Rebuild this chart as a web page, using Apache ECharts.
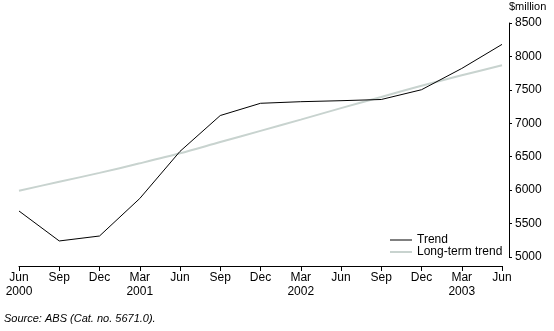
<!DOCTYPE html>
<html><head><meta charset="utf-8">
<script src="https://cdn.jsdelivr.net/npm/echarts@6/dist/echarts.min.js"></script>
<style>html,body{margin:0;padding:0;background:#fff}#c{width:554px;height:331px}</style>
</head><body><div id="c"></div>
<script>
const categories = ["Jun\n2000","Sep","Dec","Mar\n2001","Jun","Sep","Dec","Mar\n2002","Jun","Sep","Dec","Mar\n2003","Jun"];
const trend = [5688, 5240, 5314, 5875, 6580, 7116, 7299, 7323, 7338, 7356, 7502, 7820, 8180];
const longTerm = [5992, 6125, 6258, 6401, 6551, 6720, 6886, 7055, 7227, 7393, 7562, 7718, 7867];
const yTicks = {min: 5000, max: 8500, interval: 500};
const font = "'Liberation Sans', Arial, sans-serif";
const chart = echarts.init(document.getElementById('c'), null, {renderer: 'canvas'});
chart.setOption({
  animation: false,
  backgroundColor: '#fff',
  grid: {left: 19, right: 52, top: 23, bottom: 74},
  xAxis: {
    type: 'category', data: categories, boundaryGap: false, offset: 9,
    axisLine: {lineStyle: {color: '#000', width: 1}},
    axisTick: {alignWithLabel: true, length: 5, lineStyle: {color: '#000'}},
    axisLabel: {color: '#000', fontFamily: font, fontSize: 12, lineHeight: 14, margin: 5, interval: 0},
    splitLine: {show: false}
  },
  yAxis: {
    type: 'value', position: 'right', offset: 7,
    min: yTicks.min, max: yTicks.max, interval: yTicks.interval,
    axisLine: {show: true, lineStyle: {color: '#000', width: 1}},
    axisTick: {show: true, length: 3, lineStyle: {color: '#000'}},
    axisLabel: {color: '#000', fontFamily: font, fontSize: 12, margin: 6, formatter: v => String(v)},
    splitLine: {show: false}
  },
  legend: {
    orient: 'vertical', left: 390, top: 234, itemGap: 0, itemWidth: 22, itemHeight: 6, padding: 0,
    textStyle: {fontFamily: font, fontSize: 12, lineHeight: 11, color: '#000'},
    data: [{name: 'Trend', icon: 'path://M0,0L22,0L22,1L0,1Z'}, {name: 'Long-term trend', icon: 'path://M0,0L22,0L22,2L0,2Z'}]
  },
  graphic: [
    {type: 'text', left: 509, top: 1, style: {text: '$million', fontFamily: font, fontSize: 11, fill: '#000'}},
    {type: 'text', left: 4, top: 313, style: {text: 'Source: ABS (Cat. no. 5671.0).', fontFamily: font, fontSize: 11, fontStyle: 'italic', fill: '#000'}}
  ],
  series: [
    {name: 'Long-term trend', type: 'line', data: longTerm, smooth: 0.3, symbol: 'none', z: 1,
     lineStyle: {color: '#c8d3cf', width: 2}, itemStyle: {color: '#c8d3cf'}},
    {name: 'Trend', type: 'line', data: trend, symbol: 'none', z: 2,
     lineStyle: {color: '#000', width: 1}, itemStyle: {color: '#000'}}
  ]
});
</script></body></html>
